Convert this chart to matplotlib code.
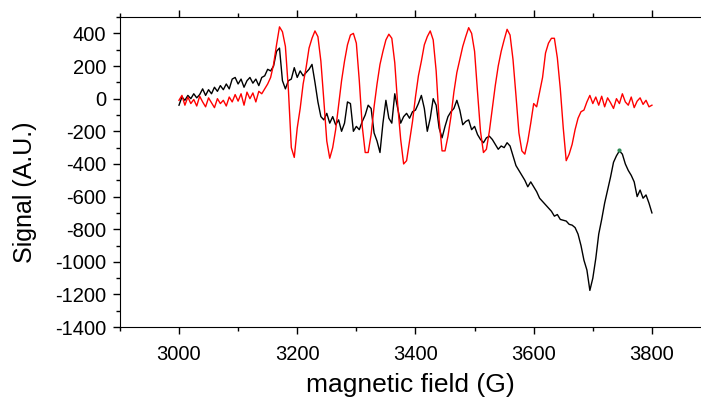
import matplotlib.pyplot as plt
import numpy as np
from matplotlib.ticker import MultipleLocator

plt.rcParams['font.family'] = ['Liberation Sans', 'DejaVu Sans']
plt.rcParams['axes.unicode_minus'] = False

# magnetic field, 5 G steps
field = np.arange(3000, 3805, 5)

signal_red = [
    -10, 20, -40, 10, -30, -5, -45, 15, -20, -50,
    5, -25, -55, 0, -30, -10, -45, 10, -20, 25,
    -15, 30, -40, 40, 0, 35, -20, 45, 30, 60,
    90, 130, 210, 330, 440, 410, 320, 60, -300, -360,
    -180, -60, 90, 190, 310, 370, 415, 380, 230, -10,
    -260, -365, -300, -190, -40, 110, 230, 330, 390, 400,
    340, 110, -170, -330, -330, -220, -50, 90, 210, 290,
    360, 395, 370, 220, -40, -250, -400, -380, -260, -140,
    10, 140, 230, 330, 380, 415, 360, 170, -130, -320,
    -320, -230, -110, 40, 160, 240, 320, 380, 435, 400,
    290, 40, -200, -330, -310, -200, -60, 80, 200, 290,
    360, 425, 390, 240, 20, -210, -320, -340, -260, -150,
    -30, -50, 40, 130, 280, 340, 370, 370, 250, 60,
    -180, -380, -340, -280, -190, -120, -80, -70, -20, 20,
    -30, 10, -40, 15, -50, 5, -25, -60, 0, -30,
    30, -20, -40, 10, -55, -15, 5, -35, -10, -50,
    -40,
]

signal_black = [
    -40, 10, -10, 20, 0, 30, 5, 25, 60, 20,
    55, 30, 70, 45, 80, 55, 90, 60, 120, 130,
    90, 120, 70, 110, 130, 95, 120, 80, 130, 140,
    180, 170, 200, 290, 310, 110, 60, 110, 120, 190,
    130, 170, 140, 160, 180, 210, 100, -20, -110, -130,
    -90, -150, -110, -160, -130, -200, -150, -20, -30, -200,
    -170, -190, -140, -100, -40, -60, -210, -260, -330, -150,
    -10, -120, -150, 30, -60, -150, -110, -90, -120, -80,
    -70, -30, 20, -60, -200, -120, 0, -40, -180, -240,
    -170, -110, -80, -60, -10, -70, -160, -140, -130, -190,
    -170, -220, -250, -270, -240, -230, -250, -280, -310, -290,
    -300, -270, -290, -350, -410, -440, -470, -500, -540, -510,
    -540, -570, -610, -630, -650, -670, -690, -720, -710, -740,
    -745, -750, -770, -775, -790, -830, -900, -990, -1050, -1175,
    -1100, -980, -830, -740, -640, -560, -480, -390, -350, -320,
    -340, -400, -440, -470, -510, -600, -560, -610, -590, -640,
    -700,
]

marker_x = [3745]
marker_y = [-312]

fig = plt.figure(figsize=(7.01, 3.97), dpi=100)
ax = fig.add_axes([0.171, 0.176, 0.829, 0.781])

ax.plot(field, signal_black, color='black', lw=1.0)
ax.plot(field, signal_red, color='#ff0000', lw=1.0)
ax.plot(marker_x, marker_y, 'o', color='#2e8b57', ms=2)

ax.set_xlim(2900, 3883)
ax.set_ylim(-1400, 500)
ax.xaxis.set_minor_locator(MultipleLocator(100))
ax.yaxis.set_minor_locator(MultipleLocator(100))
ax.set_yticks(np.arange(-1400, 401, 200))
ax.set_xticks(np.arange(3000, 3801, 200))

ax.tick_params(which='both', direction='out', top=True, right=False,
               labelsize=14.5, width=1)
ax.tick_params(which='major', length=5)
ax.tick_params(which='minor', length=3)
ax.tick_params(axis='x', which='major', pad=8)
ax.tick_params(axis='y', which='major', pad=5)
ax.spines['right'].set_visible(False)

ax.set_xlabel('magnetic field (G)', fontsize=19, labelpad=6)
ax.set_ylabel('Signal (A.U.)', fontsize=18)
ax.yaxis.set_label_coords(-0.143, 0.435)

plt.savefig('out.png', dpi=100)
